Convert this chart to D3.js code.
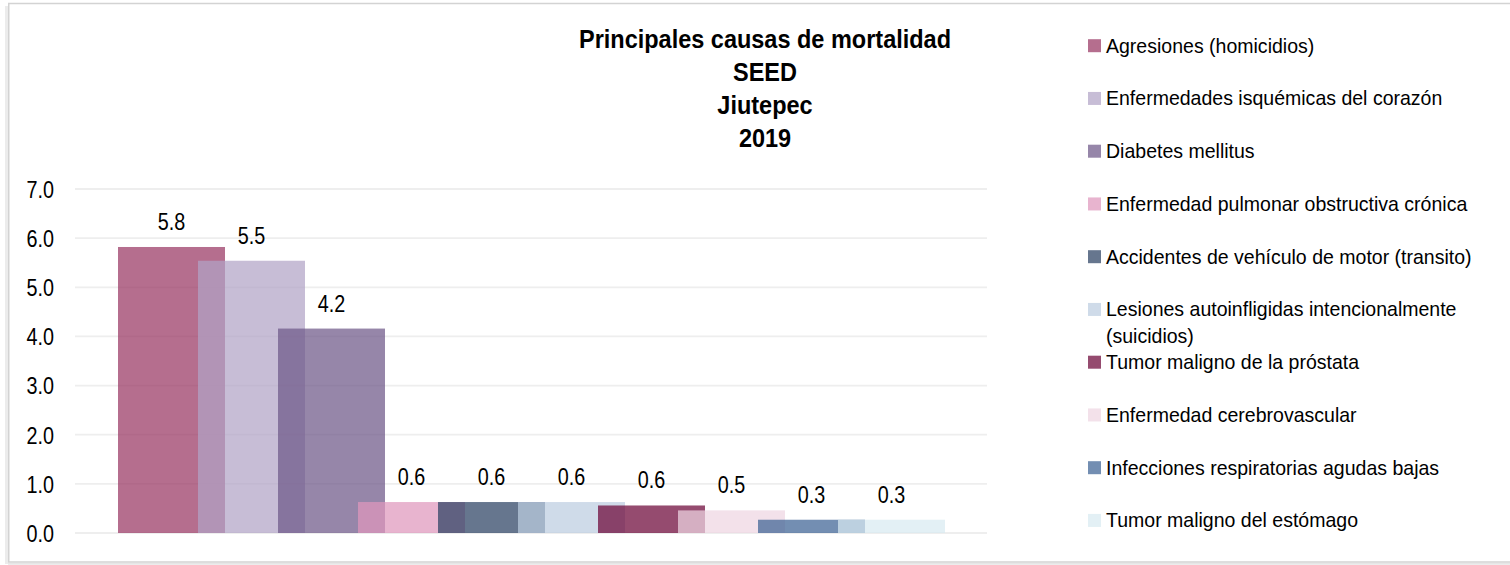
<!DOCTYPE html>
<html>
<head>
<meta charset="utf-8">
<script src="https://cdn.jsdelivr.net/npm/d3@7"></script>
<style>
  html, body { margin: 0; padding: 0; background: #ffffff; }
  svg { display: block; }
  text { font-family: "Liberation Sans", Arial, sans-serif; fill: #000; }
</style>
</head>
<body>
<div id="chart"></div>
<script>
// ---------- data ----------
const categories = [
  "Agresiones (homicidios)",
  "Enfermedades isquémicas del corazón",
  "Diabetes mellitus",
  "Enfermedad pulmonar obstructiva crónica",
  "Accidentes de vehículo de motor (transito)",
  "Lesiones autoinfligidas intencionalmente (suicidios)",
  "Tumor maligno de la próstata",
  "Enfermedad cerebrovascular",
  "Infecciones respiratorias agudas bajas",
  "Tumor maligno del estómago"
];
const legendLines = [
  ["Agresiones (homicidios)"],
  ["Enfermedades isquémicas del corazón"],
  ["Diabetes mellitus"],
  ["Enfermedad pulmonar obstructiva crónica"],
  ["Accidentes de vehículo de motor (transito)"],
  ["Lesiones autoinfligidas intencionalmente", "(suicidios)"],
  ["Tumor maligno de la próstata"],
  ["Enfermedad cerebrovascular"],
  ["Infecciones respiratorias agudas bajas"],
  ["Tumor maligno del estómago"]
];
const values = [5.82, 5.54, 4.16, 0.63, 0.63, 0.63, 0.56, 0.46, 0.27, 0.27];
const colors = ["#983663", "#b1a3c6", "#6d5788", "#df97bc", "#2b4163",
                "#bccde0", "#6c0537", "#eed5e2", "#3d6294", "#d8eaf1"];
const yTicks = [0, 1, 2, 3, 4, 5, 6, 7];
const titleLines = ["Principales causas de mortalidad", "SEED", "Jiutepec", "2019"];

// ---------- layout ----------
const W = 1510, H = 565;
const barOpacity = 0.72;
const numScaleX = 0.86;
const numSize = "23px";

const svg = d3.select("#chart").append("svg")
  .attr("width", W).attr("height", H);

// frame with light shadow
svg.append("line").attr("x1", 6.5).attr("x2", 6.5).attr("y1", 6).attr("y2", 564)
  .attr("stroke", "#ececec").attr("stroke-width", 3);
svg.append("line").attr("x1", 8).attr("x2", W).attr("y1", 563.8).attr("y2", 563.8)
  .attr("stroke", "#e6e6e6").attr("stroke-width", 2);
svg.append("rect")
  .attr("x", 8.75).attr("y", 3.5).attr("width", W).attr("height", 558.5)
  .attr("fill", "none").attr("stroke", "#d3d3d3").attr("stroke-width", 1.5);

// scales
const x = d3.scaleBand().domain(categories).range([118, 918]).paddingInner(0).paddingOuter(0);
const barW = x.step() * 1.3375;
const y = d3.scaleLinear().domain([0, 7]).range([533, 189]);

// gridlines
svg.append("g").selectAll("line").data(yTicks).join("line")
  .attr("x1", 75).attr("x2", 987)
  .attr("y1", d => y(d)).attr("y2", d => y(d))
  .attr("stroke", "#eeeeee").attr("stroke-width", 1.8);

// y-axis labels
const yAxis = d3.axisLeft(y).tickValues(yTicks).tickFormat(d3.format(".1f")).tickSize(0).tickPadding(0);
const gy = svg.append("g").attr("transform", "translate(54,0)").call(yAxis);
gy.select(".domain").remove();
gy.selectAll("text")
  .attr("x", 0).attr("dy", "0.36em")
  .attr("transform", `scale(${numScaleX},1)`)
  .style("font-family", '"Liberation Sans", Arial, sans-serif')
  .style("font-size", numSize).attr("fill", "#000");

// bars
svg.append("g").selectAll("rect").data(categories).join("rect")
  .attr("x", d => x(d))
  .attr("y", (d, i) => y(values[i]))
  .attr("width", barW)
  .attr("height", (d, i) => y(0) - y(values[i]))
  .attr("fill", (d, i) => colors[i])
  .attr("fill-opacity", barOpacity);

// data labels
const fmt = d3.format(".1f");
svg.append("g").selectAll("text").data(categories).join("text")
  .attr("transform", (d, i) => `translate(${x(d) + barW / 2},${y(values[i]) - 17}) scale(${numScaleX},1)`)
  .attr("text-anchor", "middle")
  .style("font-size", numSize)
  .text((d, i) => fmt(values[i]));

// title
const title = svg.append("g");
titleLines.forEach((t, i) => {
  title.append("text")
    .attr("transform", `translate(765,${48 + i * 33}) scale(0.94,1)`)
    .attr("text-anchor", "middle")
    .style("font-size", "25px").style("font-weight", "bold")
    .text(t);
});

// legend
const leg = svg.append("g");
legendLines.forEach((lines, i) => {
  const base = 52.7 + i * 52.75;
  leg.append("rect")
    .attr("x", 1088).attr("y", base - 13.5).attr("width", 13).attr("height", 13)
    .attr("fill", colors[i]).attr("fill-opacity", barOpacity);
  lines.forEach((ln, j) => {
    leg.append("text")
      .attr("transform", `translate(1106,${base + j * 27}) scale(0.93,1)`)
      .style("font-size", "21px")
      .text(ln);
  });
});
</script>
</body>
</html>
